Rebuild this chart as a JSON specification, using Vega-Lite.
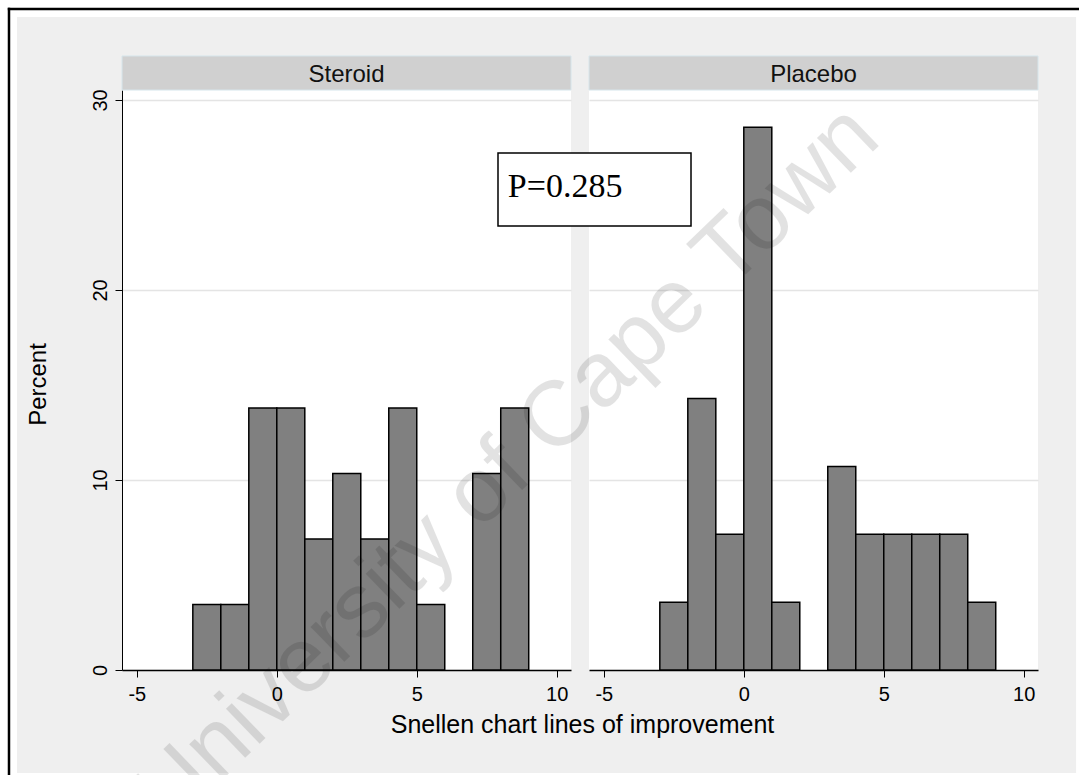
{
  "$schema": "https://vega.github.io/schema/vega-lite/v6.json",
  "autosize": {"type": "none"},
  "padding": {"left": 122, "top": 90, "right": 957, "bottom": 685},
  "background": "#efefef",
  "bounds": "flush",
  "spacing": 18,
  "config": {
    "font": "Liberation Sans",
    "view": {"fill": "#ffffff", "stroke": null},
    "axis": {
      "labelColor": "#000000", "titleColor": "#000000", "labelFontSize": 20, "titleFontSize": 24,
      "titleFontWeight": "normal", "tickColor": "#000000", "domainColor": "#000000",
      "gridColor": "#e4e4e4", "gridWidth": 1.5, "labelFont": "Liberation Sans", "titleFont": "Liberation Sans"
    }
  },
  "datasets": {
    "bars": [
      {"group": "Steroid", "lo": -3, "hi": -2, "pct": 3.448},
      {"group": "Steroid", "lo": -2, "hi": -1, "pct": 3.448},
      {"group": "Steroid", "lo": -1, "hi": 0, "pct": 13.793},
      {"group": "Steroid", "lo": 0, "hi": 1, "pct": 13.793},
      {"group": "Steroid", "lo": 1, "hi": 2, "pct": 6.897},
      {"group": "Steroid", "lo": 2, "hi": 3, "pct": 10.345},
      {"group": "Steroid", "lo": 3, "hi": 4, "pct": 6.897},
      {"group": "Steroid", "lo": 4, "hi": 5, "pct": 13.793},
      {"group": "Steroid", "lo": 5, "hi": 6, "pct": 3.448},
      {"group": "Steroid", "lo": 7, "hi": 8, "pct": 10.345},
      {"group": "Steroid", "lo": 8, "hi": 9, "pct": 13.793},
      {"group": "Placebo", "lo": -3, "hi": -2, "pct": 3.571},
      {"group": "Placebo", "lo": -2, "hi": -1, "pct": 14.286},
      {"group": "Placebo", "lo": -1, "hi": 0, "pct": 7.143},
      {"group": "Placebo", "lo": 0, "hi": 1, "pct": 28.571},
      {"group": "Placebo", "lo": 1, "hi": 2, "pct": 3.571},
      {"group": "Placebo", "lo": 3, "hi": 4, "pct": 10.714},
      {"group": "Placebo", "lo": 4, "hi": 5, "pct": 7.143},
      {"group": "Placebo", "lo": 5, "hi": 6, "pct": 7.143},
      {"group": "Placebo", "lo": 6, "hi": 7, "pct": 7.143},
      {"group": "Placebo", "lo": 7, "hi": 8, "pct": 7.143},
      {"group": "Placebo", "lo": 8, "hi": 9, "pct": 3.571}
    ],
    "panels": [{"group": "Steroid"}, {"group": "Placebo"}],
    "note": [{"label": "P=0.285"}],
    "wm": [{"label": "University of Cape Town"}],
    "one": [{"k": 1}]
  },
  "hconcat": [
    {
      "width": 449,
      "height": 580,
      "layer": [
        {
          "data": {"name": "bars"},
          "transform": [{"filter": "datum.group === 'Steroid'"}],
          "mark": {"type": "bar", "fill": "#808080", "stroke": "#000000", "strokeWidth": 1.5},
          "encoding": {
            "x": {
              "field": "lo", "type": "quantitative",
              "scale": {"domain": [-5.53, 10.51], "nice": false, "zero": false, "padding": 0},
              "axis": {
                "values": [-5, 0, 5, 10], "grid": false, "tickSize": 7, "labelPadding": 7, "domainWidth": 1.5,
                "labelFlush": false, "labelExpr": "'' + datum.value", "title": "Snellen chart lines of improvement",
                "titleX": 460, "titleY": 62, "titleAlign": "center", "titleBaseline": "alphabetic", "titleFontSize": 25
              }
            },
            "x2": {"field": "hi"},
            "y": {
              "field": "pct", "type": "quantitative",
              "scale": {"domain": [0, 30.526], "nice": false, "zero": true, "padding": 0},
              "axis": {
                "values": [0, 10, 20, 30], "grid": true, "tickSize": 7, "labelAngle": -90, "labelAlign": "center",
                "labelBaseline": "bottom", "labelPadding": 5, "domainWidth": 1, "title": "Percent",
                "titleX": -84, "titleY": 294, "titleAngle": -90, "titleAlign": "center", "titleBaseline": "middle"
              }
            },
            "y2": {"datum": 0}
          }
        },
        {
          "data": {"name": "one"},
          "mark": {"type": "rect", "fill": "#d0d0d0", "stroke": "#d6e5eb", "strokeWidth": 1},
          "encoding": {
            "x": {"datum": -5.53, "type": "quantitative"},
            "x2": {"datum": 10.51},
            "y": {"datum": 30.526, "type": "quantitative"},
            "y2": {"datum": 32.316}
          }
        },
        {
          "data": {"name": "panels"},
          "transform": [{"filter": "datum.group === 'Steroid'"}],
          "mark": {"type": "text", "fontSize": 24, "baseline": "middle", "align": "center", "color": "#111111"},
          "encoding": {
            "text": {"field": "group"},
            "x": {"datum": 2.49, "type": "quantitative"},
            "y": {"datum": 31.33, "type": "quantitative"}
          }
        },
        {
          "data": {"name": "one"},
          "mark": {"type": "rule", "stroke": "#ffffff", "strokeWidth": 17},
          "encoding": {"x": {"datum": -9.585, "type": "quantitative"}, "y": {"datum": 45, "type": "quantitative"}, "y2": {"datum": -10}}
        },
        {
          "data": {"name": "one"},
          "mark": {"type": "rule", "stroke": "#ffffff", "strokeWidth": 17},
          "encoding": {"y": {"datum": 34.816, "type": "quantitative"}, "x": {"datum": -12, "type": "quantitative"}, "x2": {"datum": 45}}
        },
        {
          "data": {"name": "one"},
          "mark": {"type": "rule", "stroke": "#ffffff", "strokeWidth": 3},
          "encoding": {"x": {"datum": 28.607, "type": "quantitative"}, "y": {"datum": 45, "type": "quantitative"}, "y2": {"datum": -10}}
        },
        {
          "data": {"name": "one"},
          "mark": {"type": "rule", "stroke": "#ffffff", "strokeWidth": 2},
          "encoding": {"y": {"datum": -5.474, "type": "quantitative"}, "x": {"datum": -12, "type": "quantitative"}, "x2": {"datum": 45}}
        },
        {
          "data": {"name": "one"},
          "mark": {"type": "rule", "stroke": "#000000", "strokeWidth": 2.5},
          "encoding": {"x": {"datum": -9.567, "type": "quantitative"}, "y": {"datum": 34.853, "type": "quantitative"}, "y2": {"datum": -10}}
        },
        {
          "data": {"name": "one"},
          "mark": {"type": "rule", "stroke": "#000000", "strokeWidth": 2.5},
          "encoding": {"y": {"datum": 34.789, "type": "quantitative"}, "x": {"datum": -9.61, "type": "quantitative"}, "x2": {"datum": 45}}
        }
      ]
    },
    {
      "width": 449,
      "height": 580,
      "layer": [
        {
          "data": {"name": "bars"},
          "transform": [{"filter": "datum.group === 'Placebo'"}],
          "mark": {"type": "bar", "fill": "#808080", "stroke": "#000000", "strokeWidth": 1.5},
          "encoding": {
            "x": {
              "field": "lo", "type": "quantitative",
              "scale": {"domain": [-5.53, 10.51], "nice": false, "zero": false, "padding": 0},
              "axis": {
                "values": [-5, 0, 5, 10], "grid": false, "tickSize": 7, "labelPadding": 7, "domainWidth": 1.5,
                "labelFlush": false, "labelExpr": "'' + datum.value", "title": null
              }
            },
            "x2": {"field": "hi"},
            "y": {
              "field": "pct", "type": "quantitative",
              "scale": {"domain": [0, 30.526], "nice": false, "zero": true, "padding": 0},
              "axis": {"values": [10, 20, 30], "grid": true, "labels": false, "ticks": false, "domain": false, "title": null}
            },
            "y2": {"datum": 0}
          }
        },
        {
          "data": {"name": "one"},
          "mark": {"type": "rect", "fill": "#d0d0d0", "stroke": "#d6e5eb", "strokeWidth": 1},
          "encoding": {
            "x": {"datum": -5.53, "type": "quantitative"},
            "x2": {"datum": 10.51},
            "y": {"datum": 30.526, "type": "quantitative"},
            "y2": {"datum": 32.316}
          }
        },
        {
          "data": {"name": "panels"},
          "transform": [{"filter": "datum.group === 'Placebo'"}],
          "mark": {"type": "text", "fontSize": 24, "baseline": "middle", "align": "center", "color": "#111111"},
          "encoding": {
            "text": {"field": "group"},
            "x": {"datum": 2.49, "type": "quantitative"},
            "y": {"datum": 31.33, "type": "quantitative"}
          }
        },
        {
          "data": {"name": "one"},
          "mark": {"type": "rect", "fill": "#ffffff", "stroke": "#000000", "strokeWidth": 1.5},
          "encoding": {
            "x": {"datum": -8.781, "type": "quantitative"},
            "x2": {"datum": -1.886},
            "y": {"datum": 27.21, "type": "quantitative"},
            "y2": {"datum": 23.37}
          }
        },
        {
          "data": {"name": "note"},
          "mark": {"type": "text", "font": "Liberation Serif", "fontSize": 34, "align": "left", "baseline": "alphabetic", "color": "#000000"},
          "encoding": {
            "text": {"field": "label"},
            "x": {"datum": -8.43, "type": "quantitative"},
            "y": {"datum": 24.9, "type": "quantitative"}
          }
        },
        {
          "data": {"name": "wm"},
          "mark": {"type": "text", "font": "Liberation Sans", "fontSize": 92, "angle": -44, "align": "center", "baseline": "alphabetic", "color": "#000000", "opacity": 0.11},
          "encoding": {
            "text": {"field": "label"},
            "x": {"datum": -7.75, "type": "quantitative"},
            "y": {"datum": 9.7, "type": "quantitative"}
          }
        }
      ]
    }
  ]
}
